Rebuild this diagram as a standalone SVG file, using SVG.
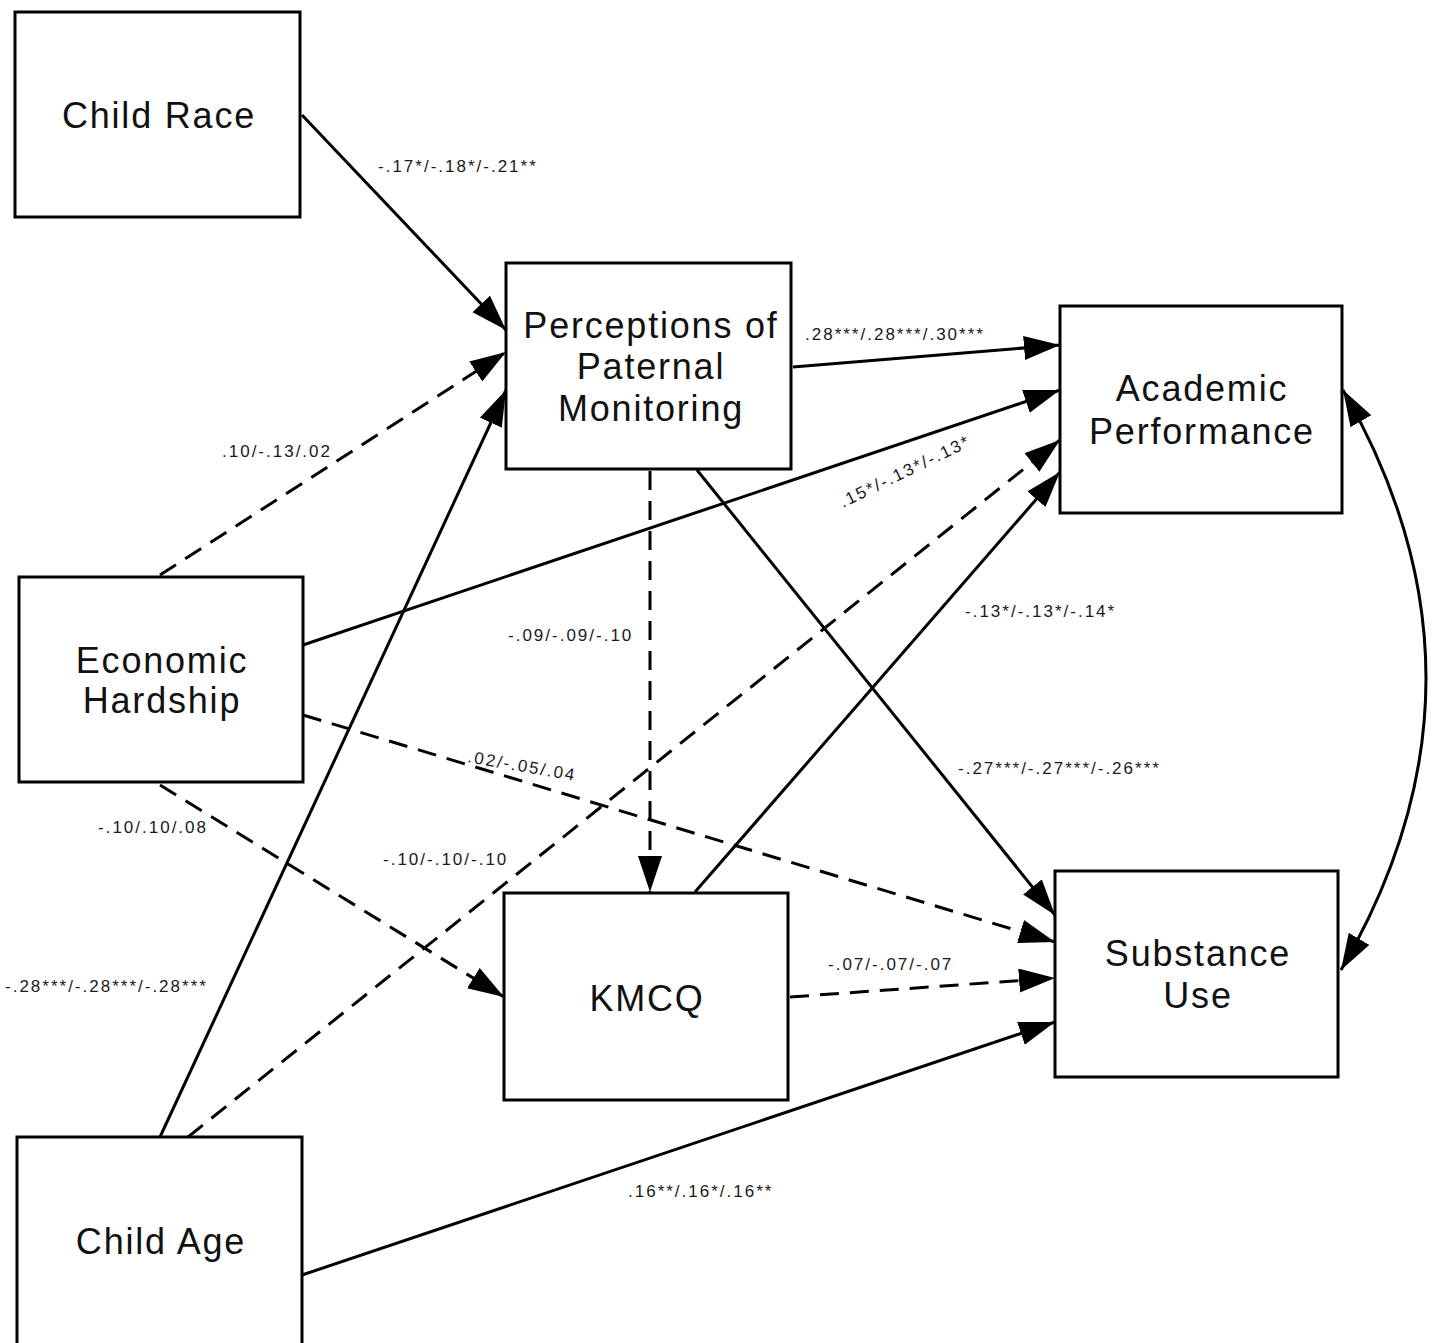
<svg xmlns="http://www.w3.org/2000/svg" width="1436" height="1343" viewBox="0 0 1436 1343">
  <style>
    .box { fill: #ffffff; stroke: #000000; stroke-width: 3; }
    .name { font-family: "Liberation Sans", Arial, sans-serif; font-size: 36px; letter-spacing: 1.8px; fill: #111111; text-anchor: middle; }
    .coef { font-family: "Liberation Sans", Arial, sans-serif; font-size: 17px; letter-spacing: 2px; fill: #1a1a1a; }
    .solid { fill: none; stroke: #000000; stroke-width: 3; }
    .dash { fill: none; stroke: #000000; stroke-width: 3; stroke-dasharray: 19 11; }
  </style>
  <defs>
    <marker id="head" markerUnits="userSpaceOnUse" markerWidth="40" markerHeight="30" refX="36" refY="12" orient="auto-start-reverse">
      <path d="M0,0 L36,12 L0,24 Z" fill="#000000"/>
    </marker>
  </defs>
  <rect width="1436" height="1343" fill="#ffffff"/>

  <!-- paths between variables -->
  <g id="connectors">
    <line class="solid" x1="302" y1="115" x2="506" y2="330" marker-end="url(#head)"/>
    <line class="dash" x1="160" y1="575" x2="506" y2="352" marker-end="url(#head)"/>
    <line class="solid" x1="160" y1="1137" x2="506" y2="390" marker-end="url(#head)"/>
    <line class="solid" x1="793" y1="367" x2="1060" y2="345" marker-end="url(#head)"/>
    <line class="solid" x1="303" y1="645" x2="1060" y2="390" marker-end="url(#head)"/>
    <line class="dash" x1="188" y1="1137" x2="1060" y2="440" marker-end="url(#head)"/>
    <line class="solid" x1="695" y1="892" x2="1060" y2="472" marker-end="url(#head)"/>
    <line class="dash" x1="650" y1="471" x2="650" y2="892" marker-end="url(#head)"/>
    <line class="solid" x1="697" y1="470" x2="1055" y2="915" marker-end="url(#head)"/>
    <line class="dash" x1="303" y1="715" x2="1055" y2="942" marker-end="url(#head)"/>
    <line class="dash" x1="160" y1="785" x2="504" y2="997" marker-end="url(#head)"/>
    <line class="dash" x1="790" y1="997" x2="1055" y2="978" marker-end="url(#head)"/>
    <line class="solid" x1="302" y1="1275" x2="1055" y2="1022" marker-end="url(#head)"/>
    <!-- covariance between the two outcomes -->
    <path class="solid" d="M1343,390 Q1510,680 1341,970" marker-start="url(#head)" marker-end="url(#head)"/>

    <text class="coef" x="378" y="172">-.17*/-.18*/-.21**</text>
    <text class="coef" x="805" y="340">.28***/.28***/.30***</text>
    <text class="coef" x="222" y="457">.10/-.13/.02</text>
    <text class="coef" transform="translate(843,508) rotate(-26)">.15*/-.13*/-.13*</text>
    <text class="coef" x="508" y="641">-.09/-.09/-.10</text>
    <text class="coef" x="965" y="617">-.13*/-.13*/-.14*</text>
    <text class="coef" transform="translate(467,762) rotate(10)">.02/-.05/.04</text>
    <text class="coef" x="958" y="774">-.27***/-.27***/-.26***</text>
    <text class="coef" x="98" y="833">-.10/.10/.08</text>
    <text class="coef" x="383" y="865">-.10/-.10/-.10</text>
    <text class="coef" x="828" y="970">-.07/-.07/-.07</text>
    <text class="coef" x="5" y="992">-.28***/-.28***/-.28***</text>
    <text class="coef" x="628" y="1197">.16**/.16*/.16**</text>
  </g>

  <g id="child-race">
    <rect class="box" x="15" y="12" width="285" height="205"/>
    <text class="name" x="159" y="128">Child Race</text>
  </g>
  <g id="paternal-monitoring">
    <rect class="box" x="506" y="263" width="285" height="206"/>
    <text class="name" x="651" y="338">Perceptions of</text>
    <text class="name" x="651" y="379">Paternal</text>
    <text class="name" x="651" y="421">Monitoring</text>
  </g>
  <g id="academic-performance">
    <rect class="box" x="1060" y="306" width="282" height="207"/>
    <text class="name" x="1202" y="401">Academic</text>
    <text class="name" x="1202" y="444">Performance</text>
  </g>
  <g id="economic-hardship">
    <rect class="box" x="19" y="577" width="284" height="205"/>
    <text class="name" x="162" y="673">Economic</text>
    <text class="name" x="162" y="713">Hardship</text>
  </g>
  <g id="kmcq">
    <rect class="box" x="504" y="893" width="284" height="207"/>
    <text class="name" x="647" y="1011">KMCQ</text>
  </g>
  <g id="substance-use">
    <rect class="box" x="1055" y="871" width="283" height="206"/>
    <text class="name" x="1198" y="966">Substance</text>
    <text class="name" x="1198" y="1008">Use</text>
  </g>
  <g id="child-age">
    <rect class="box" x="17" y="1137" width="285" height="210"/>
    <text class="name" x="161" y="1254">Child Age</text>
  </g>
</svg>
